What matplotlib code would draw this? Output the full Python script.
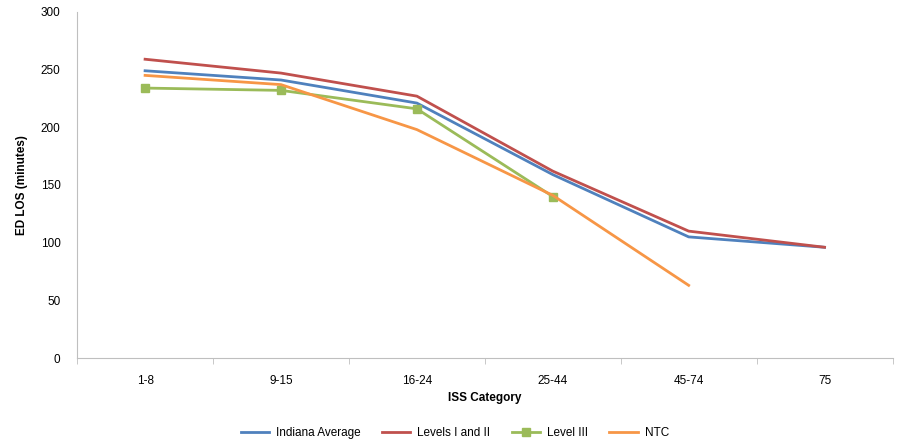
import numpy as np
import matplotlib
matplotlib.use("Agg")
import matplotlib.pyplot as plt

# ISS categories and ED length of stay (minutes)
categories = ["1-8", "9-15", "16-24", "25-44", "45-74", "75"]
indiana_avg = [249, 241, 221, 159, 105, 96]
levels_1_2 = [259, 247, 227, 162, 110, 96]
level_3 = [234, 232, 216, 140]
ntc = [245, 237, 198, 141, 63]

plt.rcParams['font.family'] = ['Liberation Sans', 'DejaVu Sans']

fig = plt.figure(figsize=(8.97, 4.42), dpi=100)
ax = fig.add_axes([0.086, 0.19, 0.909, 0.783])

x = np.arange(len(categories))
ax.plot(x, indiana_avg, color="#4F81BD", lw=2.0, label="Indiana Average")
ax.plot(x, levels_1_2, color="#C0504D", lw=2.0, label="Levels I and II")
ax.plot(x[:len(level_3)], level_3, color="#9BBB59", lw=2.0, marker="s", ms=6, label="Level III")
ax.plot(x[:len(ntc)], ntc, color="#F79646", lw=2.0, label="NTC")

ax.set_xlim(-0.5, len(categories) - 0.5)
ax.set_ylim(0, 300)
ax.set_yticks(range(0, 301, 50))
ax.set_xticks(x)
ax.set_xticklabels(categories)
ax.set_xticks(np.arange(-0.5, len(categories), 1.0), minor=True)
ax.tick_params(axis="x", which="major", length=0, pad=12, labelsize=8.5)
ax.tick_params(axis="x", which="minor", length=4, color="#BFBFBF", direction="out")
ax.tick_params(axis="y", length=0, pad=12, labelsize=8.5)

for s in ["top", "right"]:
    ax.spines[s].set_visible(False)
for s in ["left", "bottom"]:
    ax.spines[s].set_color("#BFBFBF")

ax.set_xlabel("ISS Category", fontsize=8.5, fontweight="bold", labelpad=4)
ax.set_ylabel("ED LOS (minutes)", fontsize=8.5, fontweight="bold")
ax.yaxis.set_label_coords(-0.06, 0.5)

fig.legend(*ax.get_legend_handles_labels(), loc="center", bbox_to_anchor=(0.507, 0.02),
           ncol=4, frameon=False, fontsize=8.5, handlelength=2.4, handletextpad=0.6,
           columnspacing=1.8)

fig.savefig("out.png", dpi=100)
